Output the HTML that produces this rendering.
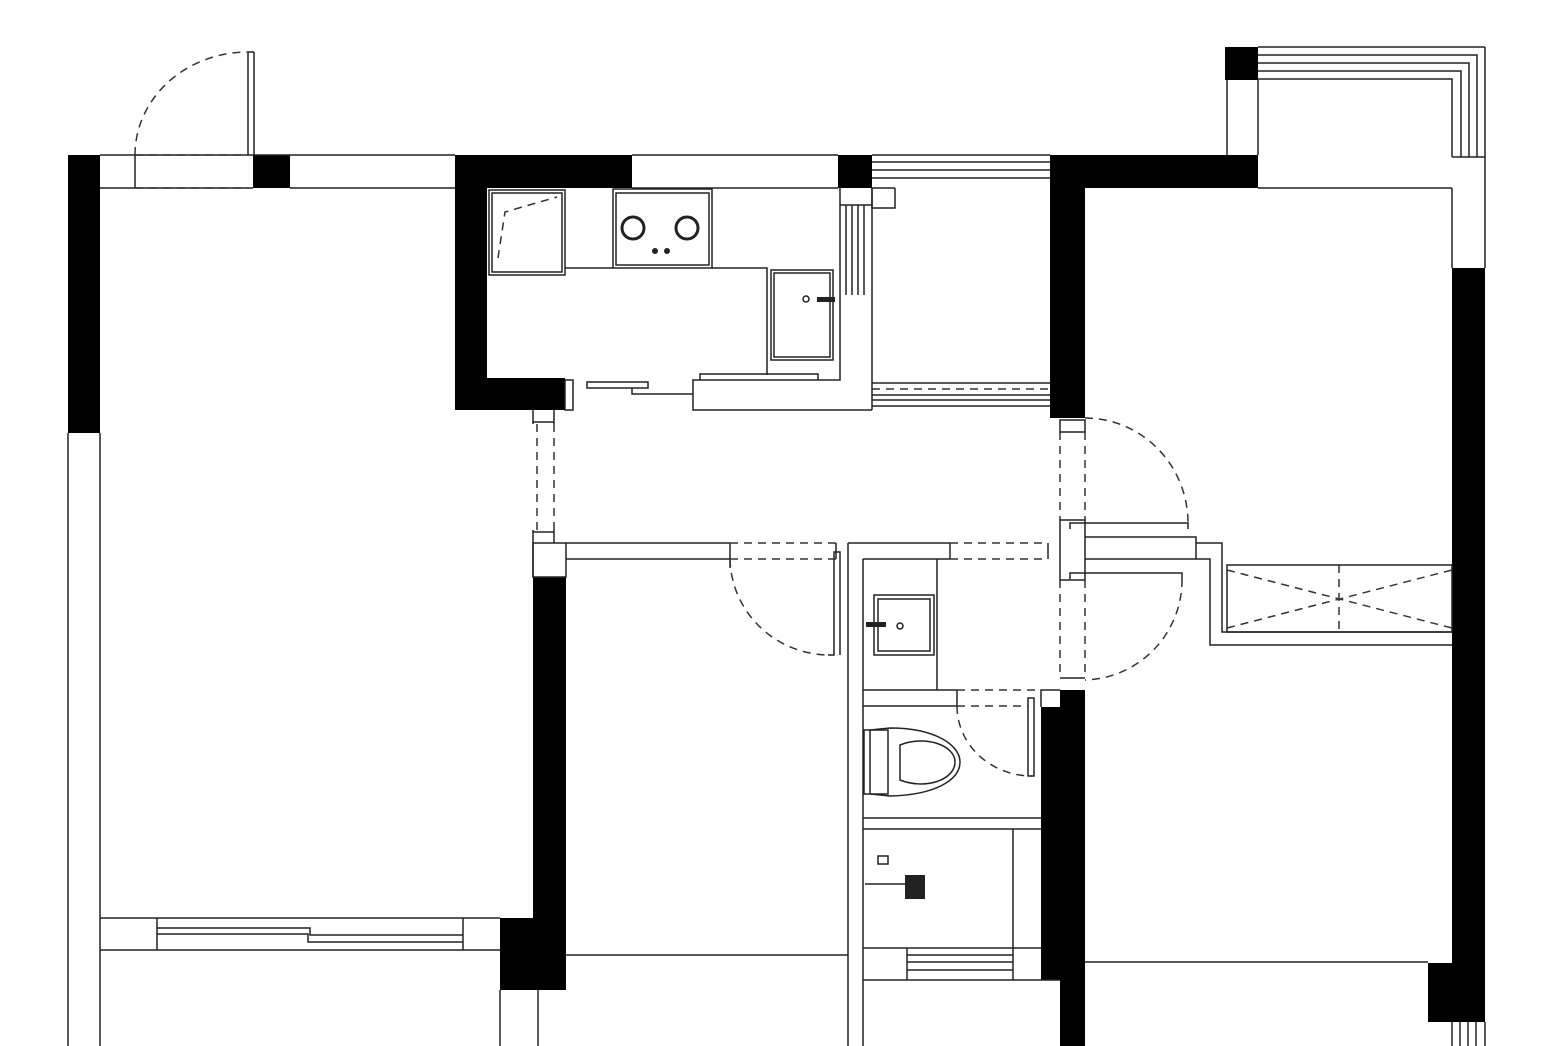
<!DOCTYPE html>
<html><head><meta charset="utf-8"><style>html,body{margin:0;padding:0;background:#fff}svg{display:block}</style></head>
<body>
<svg width="1555" height="1046" viewBox="0 0 1555 1046" xmlns="http://www.w3.org/2000/svg">
<g fill="#000">
<rect x="68" y="155" width="32" height="278"/>
<rect x="253" y="155" width="37" height="33"/>
<rect x="455" y="155" width="177" height="33"/>
<rect x="455" y="155" width="32" height="255"/>
<rect x="455" y="378" width="110" height="32"/>
<rect x="838" y="155" width="34" height="33"/>
<rect x="1050" y="155" width="208" height="33"/>
<rect x="1050" y="155" width="35" height="263"/>
<rect x="1225" y="47" width="33" height="33"/>
<rect x="1452" y="268" width="33" height="695"/>
<rect x="1428" y="963" width="57" height="59"/>
<rect x="533" y="577" width="33" height="413"/>
<rect x="500" y="918" width="66" height="72"/>
<rect x="1041" y="707" width="44" height="273"/>
<rect x="1060" y="690" width="25" height="356"/>
</g>
<g fill="none" stroke="#222" stroke-width="1.5">
<!-- left outer -->
<line x1="68" y1="433" x2="68" y2="1046"/>
<line x1="100" y1="433" x2="100" y2="1046"/>
<!-- top -->
<line x1="100" y1="155" x2="455" y2="155"/>
<line x1="100" y1="188" x2="253" y2="188"/>
<line x1="290" y1="188" x2="455" y2="188"/>
<line x1="135" y1="155" x2="135" y2="188"/>
<line x1="632" y1="155" x2="838" y2="155"/>
<line x1="632" y1="188" x2="838" y2="188"/>
<!-- balcony left side lines top -->
<line x1="872" y1="155" x2="1050" y2="155"/>
<line x1="872" y1="162" x2="1050" y2="162"/>
<line x1="872" y1="170" x2="1050" y2="170"/>
<line x1="872" y1="178" x2="1050" y2="178"/>
<line x1="872" y1="188" x2="895" y2="188"/>
<polyline points="872,188 872,208 895,208 895,188"/>
<!-- door top left -->
<line x1="248" y1="52" x2="248" y2="155"/>
<line x1="254" y1="52" x2="254" y2="155"/>
<line x1="248" y1="52" x2="254" y2="52"/>
<!-- kitchen -->
<rect x="489" y="190" width="76" height="85"/>
<rect x="492" y="193" width="70" height="79"/>
<rect x="613" y="189" width="99" height="79"/>
<rect x="616" y="193" width="93" height="72"/>
<line x1="565" y1="268" x2="613" y2="268"/>
<polyline points="712,268 767,268 767,375"/>
<rect x="771" y="270" width="62" height="90"/>
<rect x="774" y="273" width="56" height="84"/>
<polyline points="840,188 840,295"/>
<line x1="846" y1="205" x2="846" y2="295"/>
<line x1="852" y1="205" x2="852" y2="295"/>
<line x1="858" y1="205" x2="858" y2="295"/>
<line x1="864" y1="205" x2="864" y2="295"/>
<line x1="840" y1="205" x2="872" y2="205"/>
<line x1="872" y1="188" x2="872" y2="410"/>
<polyline points="840,295 840,380 693,380 693,410 872,410"/>
<polyline points="700,380 700,374 818,374 818,380"/>
<rect x="587" y="382" width="61" height="6"/>
<polyline points="632,388 632,394 693,394"/>
<rect x="565" y="380" width="8" height="30"/>
<!-- sliding door right of kitchen -->
<line x1="872" y1="383" x2="1050" y2="383"/>
<line x1="872" y1="395" x2="1050" y2="395"/>
<line x1="872" y1="400" x2="1050" y2="400"/>
<line x1="872" y1="406" x2="1050" y2="406"/>
<!-- corridor -->
<line x1="533" y1="410" x2="533" y2="424"/>
<line x1="554" y1="410" x2="554" y2="424"/>
<line x1="533" y1="422" x2="554" y2="422"/>
<line x1="533" y1="530" x2="533" y2="577"/>
<line x1="554" y1="530" x2="554" y2="543"/>
<line x1="533" y1="532" x2="554" y2="532"/>
<rect x="533" y="543" width="33" height="34"/>
<line x1="566" y1="543" x2="730" y2="543"/>
<line x1="566" y1="559" x2="730" y2="559"/>
<line x1="730" y1="543" x2="730" y2="568"/>
<polyline points="828,655 834,655 834,552 840,552 840,655"/>
<line x1="836" y1="543" x2="836" y2="559"/>
<line x1="848" y1="543" x2="848" y2="1046"/>
<line x1="863" y1="559" x2="863" y2="1046"/>
<line x1="848" y1="543" x2="950" y2="543"/>
<line x1="863" y1="559" x2="950" y2="559"/>
<line x1="950" y1="543" x2="950" y2="559"/>
<line x1="1048" y1="543" x2="1048" y2="559"/>
<rect x="1060" y="420" width="25" height="12"/>
<rect x="1060" y="520" width="25" height="60"/>
<polyline points="1070,529 1070,523 1188,523 1188,529"/>
<polyline points="1085,537 1196,537 1196,559 1085,559"/>
<polyline points="1070,579 1070,573 1182,573 1182,579"/>
<polyline points="1196,543 1222,543 1222,559 1222,565"/>
<polyline points="1196,559 1210,559 1210,645 1452,645"/>
<polyline points="1222,565 1222,632 1452,632"/>
<rect x="1227" y="565" width="225" height="67"/>
<line x1="1060" y1="678" x2="1085" y2="678"/>
<!-- bathroom -->
<rect x="874" y="595" width="60" height="60"/>
<rect x="878" y="599" width="52" height="52"/>
<line x1="937" y1="559" x2="937" y2="690"/>
<line x1="863" y1="690" x2="957" y2="690"/>
<line x1="863" y1="706" x2="957" y2="706"/>
<line x1="957" y1="690" x2="957" y2="706"/>
<polyline points="1041,707 1041,690 1060,690"/>
<rect x="1028" y="698" width="6" height="78"/>
<line x1="863" y1="818" x2="1041" y2="818"/>
<line x1="863" y1="829" x2="1041" y2="829"/>
<line x1="1013" y1="829" x2="1013" y2="980"/>
<line x1="863" y1="948" x2="1041" y2="948"/>
<line x1="863" y1="980" x2="1060" y2="980"/>
<line x1="907" y1="948" x2="907" y2="980"/>
<line x1="907" y1="955" x2="1013" y2="955"/>
<line x1="907" y1="962" x2="1013" y2="962"/>
<line x1="907" y1="970" x2="1013" y2="970"/>
<path d="M870,730 L890,728 C935,728 960,745 960,762 C960,780 935,795 890,796 L870,794 Z"/>
<rect x="864" y="730" width="24" height="64"/>
<path d="M900,745 C925,735 955,745 955,762 C955,780 925,790 900,780 Z"/>
<rect x="878" y="856" width="10" height="8"/>
<line x1="865" y1="884" x2="910" y2="884"/>
<!-- room left bottom window -->
<line x1="100" y1="918" x2="500" y2="918"/>
<line x1="100" y1="950" x2="500" y2="950"/>
<line x1="157" y1="918" x2="157" y2="950"/>
<line x1="463" y1="918" x2="463" y2="950"/>
<polyline points="157,928 310,928 310,935 463,935"/>
<polyline points="157,934 308,934 308,942 463,942"/>
<line x1="500" y1="990" x2="500" y2="1046"/>
<line x1="538" y1="990" x2="538" y2="1046"/>
<line x1="566" y1="955" x2="848" y2="955"/>
<!-- right rooms -->
<line x1="1085" y1="962" x2="1428" y2="962"/>
<line x1="1258" y1="188" x2="1452" y2="188"/>
<line x1="1227" y1="80" x2="1227" y2="155"/>
<line x1="1258" y1="80" x2="1258" y2="155"/>
<line x1="1258" y1="47" x2="1485" y2="47"/>
<polyline points="1258,55 1477,55 1477,157"/>
<polyline points="1258,63 1469,63 1469,157"/>
<polyline points="1258,71 1461,71 1461,157"/>
<polyline points="1258,79 1452,79 1452,157"/>
<line x1="1485" y1="47" x2="1485" y2="268"/>
<line x1="1452" y1="157" x2="1485" y2="157"/>
<line x1="1452" y1="188" x2="1452" y2="268"/>
<line x1="1452" y1="1022" x2="1452" y2="1046"/>
<line x1="1460" y1="1022" x2="1460" y2="1046"/>
<line x1="1468" y1="1022" x2="1468" y2="1046"/>
<line x1="1476" y1="1022" x2="1476" y2="1046"/>
<line x1="1485" y1="1022" x2="1485" y2="1046"/>
</g>
<g fill="none" stroke="#333" stroke-width="1.5" stroke-dasharray="8,6">
<path d="M135,155 A113,103 0 0 1 248,52"/>
<line x1="135" y1="155" x2="248" y2="155"/>
<line x1="135" y1="188" x2="248" y2="188"/>
<polyline points="498,258 505,212 557,197"/>
<line x1="537" y1="424" x2="537" y2="530"/>
<line x1="554" y1="424" x2="554" y2="530"/>
<line x1="730" y1="543" x2="836" y2="543"/>
<line x1="730" y1="559" x2="836" y2="559"/>
<path d="M730,559 A100,98 0 0 0 828,655"/>
<line x1="950" y1="543" x2="1048" y2="543"/>
<line x1="950" y1="559" x2="1048" y2="559"/>
<line x1="1060" y1="432" x2="1060" y2="520"/>
<line x1="1085" y1="432" x2="1085" y2="520"/>
<line x1="1060" y1="580" x2="1060" y2="678"/>
<line x1="1085" y1="580" x2="1085" y2="678"/>
<path d="M1085,418 A103,105 0 0 1 1188,523"/>
<path d="M1182,579 A100,100 0 0 1 1085,680"/>
<line x1="957" y1="690" x2="1041" y2="690"/>
<line x1="957" y1="706" x2="1028" y2="706"/>
<path d="M957,706 A75,70 0 0 0 1032,776"/>
<line x1="1227" y1="570" x2="1452" y2="628"/>
<line x1="1227" y1="628" x2="1452" y2="570"/>
<line x1="1339" y1="565" x2="1339" y2="632"/>
<line x1="872" y1="389" x2="1050" y2="389"/>
</g>
<g fill="#222">
<circle cx="633" cy="228" r="11" fill="none" stroke="#222" stroke-width="3"/>
<circle cx="687" cy="228" r="11" fill="none" stroke="#222" stroke-width="3"/>
<circle cx="655" cy="251" r="3"/><circle cx="667" cy="251" r="3"/>
<circle cx="806" cy="299" r="3" fill="none" stroke="#222" stroke-width="1.5"/>
<rect x="817" y="297" width="18" height="5"/>
<circle cx="900" cy="626" r="3" fill="none" stroke="#222" stroke-width="1.5"/>
<rect x="866" y="622" width="20" height="5"/>
<rect x="905" y="875" width="20" height="24"/>
</g>
</svg>
</body></html>
